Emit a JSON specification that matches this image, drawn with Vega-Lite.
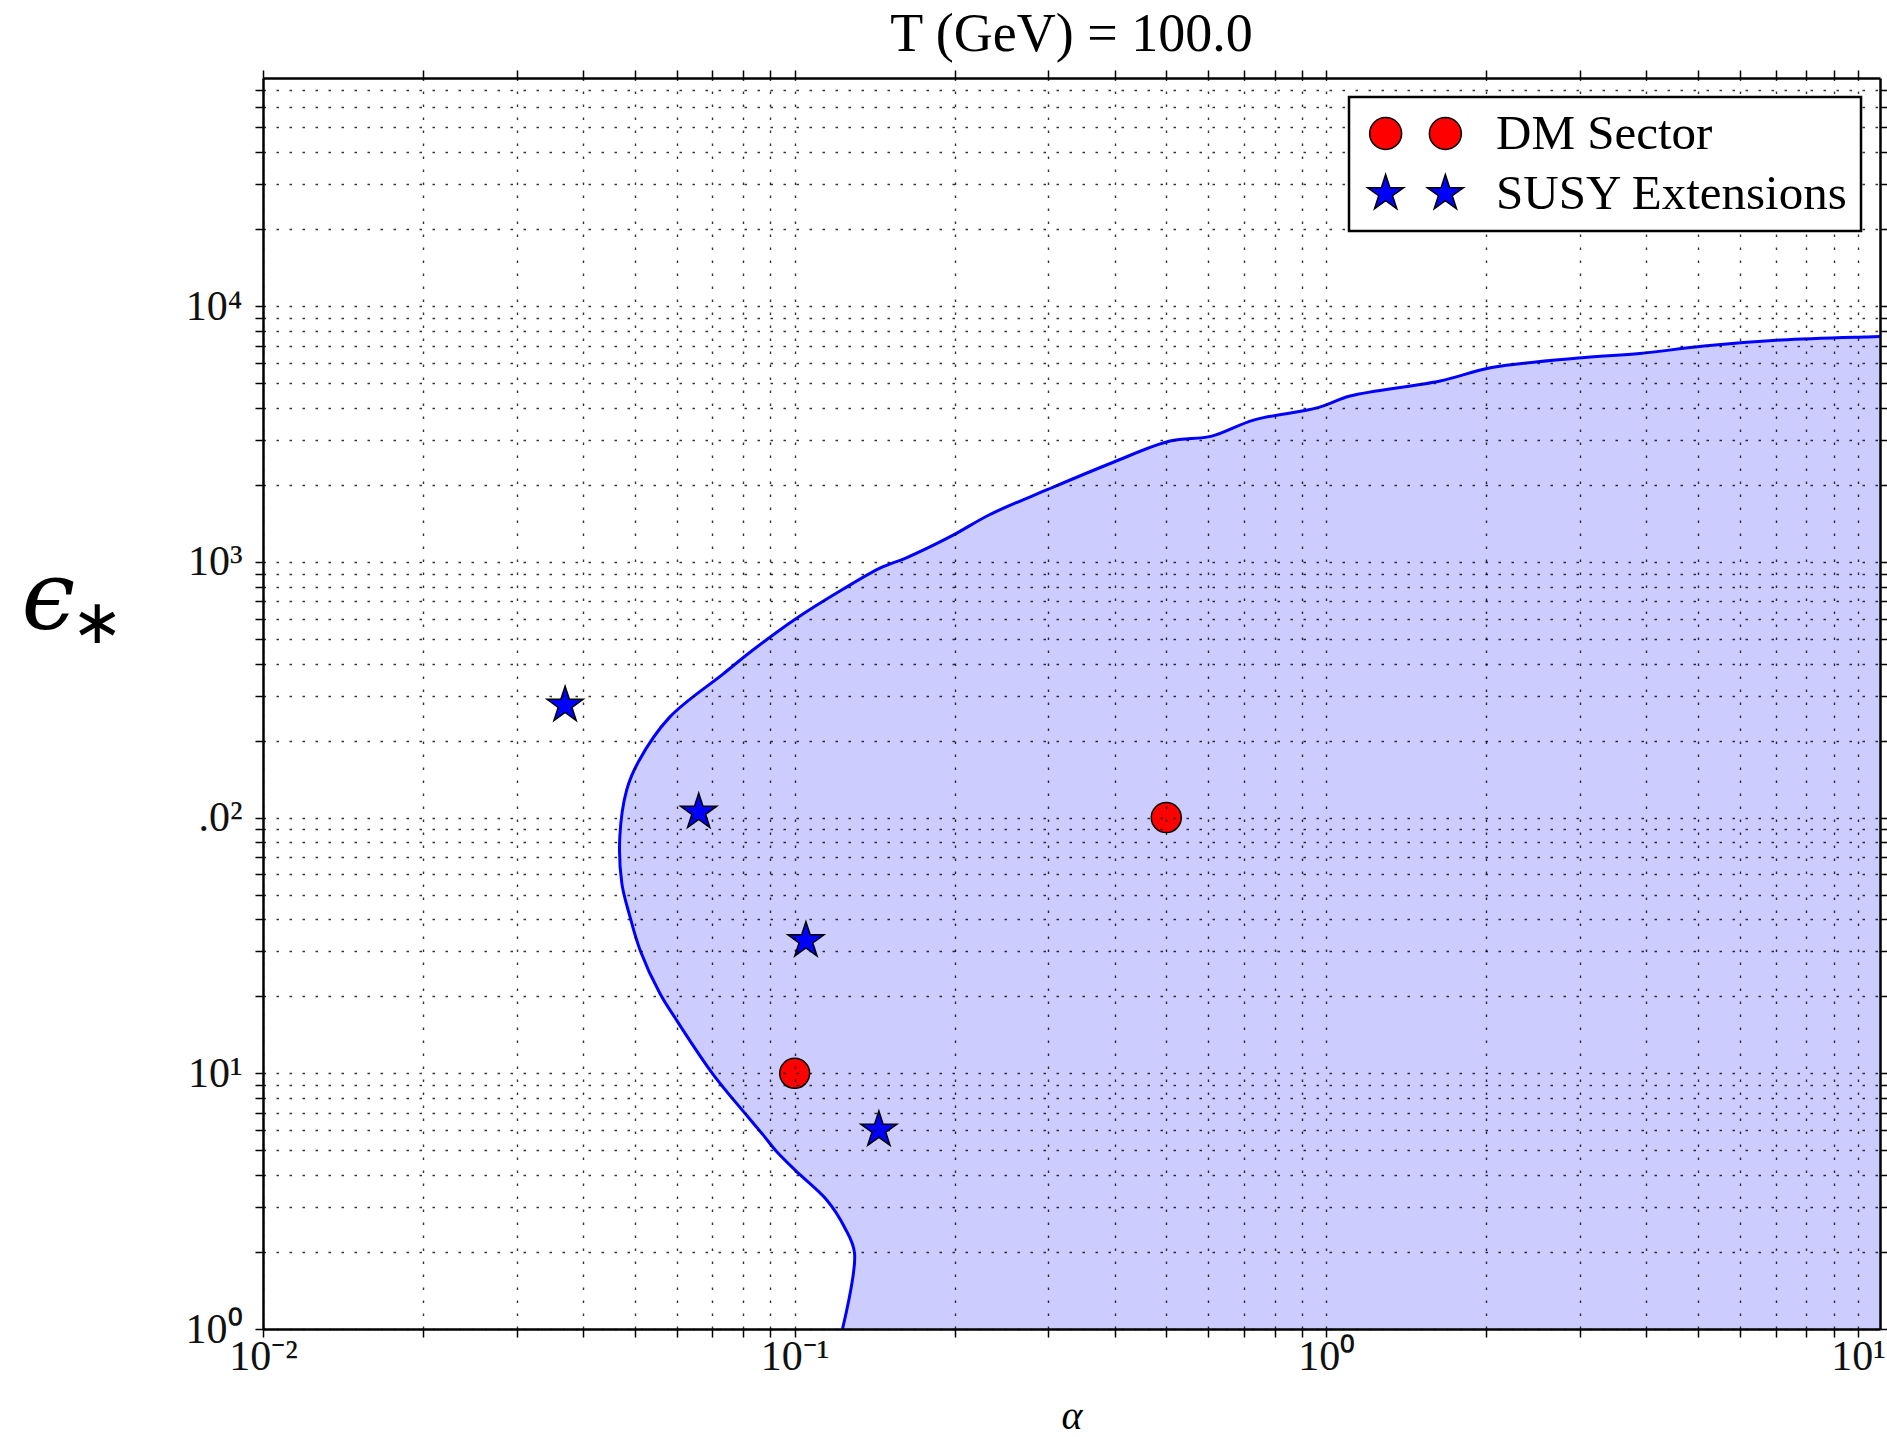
{
  "$schema": "https://vega.github.io/schema/vega-lite/v6.json",
  "autosize": {"type": "none"},
  "padding": {"left": 263, "top": 78, "right": 7, "bottom": 108},
  "width": 1617,
  "height": 1251,
  "background": "white",
  "title": {
    "text": "T (GeV) = 100.0",
    "font": "Liberation Serif",
    "fontSize": 54,
    "fontWeight": "normal",
    "color": "black",
    "anchor": "middle",
    "baseline": "alphabetic",
    "offset": -36
  },
  "datasets": {
    "boundary": [
      {"alpha": 0.1230, "eps": 1.0},
      {"alpha": 0.1296, "eps": 1.98},
      {"alpha": 0.1241, "eps": 2.5},
      {"alpha": 0.1150, "eps": 3.19},
      {"alpha": 0.1003, "eps": 4.17},
      {"alpha": 0.0920, "eps": 5.0},
      {"alpha": 0.0873, "eps": 5.73},
      {"alpha": 0.0812, "eps": 6.85},
      {"alpha": 0.0700, "eps": 10.0},
      {"alpha": 0.0600, "eps": 16.1},
      {"alpha": 0.0558, "eps": 20.5},
      {"alpha": 0.0512, "eps": 30.3},
      {"alpha": 0.0490, "eps": 41.0},
      {"alpha": 0.0473, "eps": 55.4},
      {"alpha": 0.0469, "eps": 84.3},
      {"alpha": 0.0483, "eps": 128},
      {"alpha": 0.0508, "eps": 165},
      {"alpha": 0.0582, "eps": 247},
      {"alpha": 0.0733, "eps": 364},
      {"alpha": 0.0837, "eps": 454},
      {"alpha": 0.0999, "eps": 594},
      {"alpha": 0.1232, "eps": 781},
      {"alpha": 0.1450, "eps": 947},
      {"alpha": 0.1622, "eps": 1037},
      {"alpha": 0.1970, "eps": 1260},
      {"alpha": 0.2330, "eps": 1532},
      {"alpha": 0.2993, "eps": 1919},
      {"alpha": 0.3954, "eps": 2441},
      {"alpha": 0.5080, "eps": 2967},
      {"alpha": 0.6090, "eps": 3103},
      {"alpha": 0.7297, "eps": 3584},
      {"alpha": 0.9643, "eps": 4009},
      {"alpha": 1.108, "eps": 4450},
      {"alpha": 1.637, "eps": 5095},
      {"alpha": 2.046, "eps": 5750},
      {"alpha": 3.065, "eps": 6292},
      {"alpha": 3.885, "eps": 6523},
      {"alpha": 5.133, "eps": 6985},
      {"alpha": 7.171, "eps": 7375},
      {"alpha": 10.30, "eps": 7576},
      {"alpha": 11.0, "eps": 7600}
    ],
    "markers": [
      {"alpha": 0.1, "eps": 10, "group": "DM Sector"},
      {"alpha": 0.5, "eps": 100, "group": "DM Sector"},
      {"alpha": 0.037, "eps": 275, "group": "SUSY Extensions"},
      {"alpha": 0.066, "eps": 105, "group": "SUSY Extensions"},
      {"alpha": 0.105, "eps": 33, "group": "SUSY Extensions"},
      {"alpha": 0.144, "eps": 6.0, "group": "SUSY Extensions"}
    ]
  },
  "resolve": {"axis": {"x": "independent", "y": "independent"}},
  "layer": [
    {
      "data": {"name": "boundary"},
      "mark": {"type": "area", "orient": "horizontal", "interpolate": "catmull-rom", "color": "#ccccff", "opacity": 1, "clip": true},
      "encoding": {
        "y": {
          "field": "eps", "type": "quantitative",
          "scale": {"type": "log", "domain": [1, 78000], "nice": false, "zero": false},
          "axis": {
            "orient": "left", "zindex": 1,
            "values": [1, 10, 100, 1000, 10000],
            "labelExpr": "datum.value < 5 ? '10⁰' : datum.value < 50 ? '10¹' : datum.value < 500 ? '.0²' : datum.value < 5000 ? '10³' : '10⁴'",
            "ticks": false, "tickSize": 0, "grid": false,
            "domain": true,
            "labelAlign": "right", "labelBaseline": "middle", "labelPadding": 21,
            "title": "ϵ",
            "titleAngle": 0, "titleAlign": "left", "titleBaseline": "alphabetic",
            "titleX": -242, "titleY": 550,
            "titleFont": "DejaVu Serif", "titleFontStyle": "italic", "titleFontWeight": "normal",
            "titleFontSize": 96, "titleColor": "black"
          }
        },
        "x": {
          "field": "alpha", "type": "quantitative",
          "scale": {"type": "log", "domain": [0.01, 11], "nice": false, "zero": false},
          "axis": {
            "orient": "bottom", "zindex": 1,
            "values": [0.01, 0.1, 1, 10],
            "labelExpr": "datum.value < 0.05 ? '10⁻²' : datum.value < 0.5 ? '10⁻¹' : datum.value < 5 ? '10⁰' : '10¹'",
            "ticks": false, "tickSize": 0, "grid": false,
            "domain": true,
            "labelBaseline": "top", "labelPadding": 7,
            "title": "α",
            "titleBaseline": "bottom", "titleY": 107,
            "titleFont": "Liberation Serif", "titleFontStyle": "italic", "titleFontWeight": "normal",
            "titleFontSize": 40, "titleColor": "black"
          }
        },
        "x2": {"datum": 11}
      }
    },
    {
      "data": {"name": "boundary"},
      "mark": {"type": "line", "interpolate": "catmull-rom", "color": "#0000ff", "strokeWidth": 3, "clip": true},
      "encoding": {
        "x": {
          "field": "alpha", "type": "quantitative",
          "scale": {"type": "log", "domain": [0.01, 11], "nice": false, "zero": false},
          "axis": {
            "orient": "bottom", "zindex": 1,
            "values": [0.01, 0.02, 0.03, 0.04, 0.05, 0.06, 0.07, 0.08, 0.09, 0.1, 0.2, 0.3, 0.4, 0.5, 0.6, 0.7, 0.8, 0.9, 1, 2, 3, 4, 5, 6, 7, 8, 9, 10],
            "labels": false, "domain": false, "ticks": true, "tickSize": 8, "title": null,
            "grid": true,
            "encode": {"ticks": {"update": {"y2": {"signal": "abs(log(datum.value)/LN10 - round(log(datum.value)/LN10)) < 0.001 ? -17 : -8.5"}}}}
          }
        },
        "y": {
          "field": "eps", "type": "quantitative",
          "scale": {"type": "log", "domain": [1, 78000], "nice": false, "zero": false},
          "axis": {
            "orient": "left", "zindex": 1,
            "values": [1, 2, 3, 4, 5, 6, 7, 8, 9, 10, 20, 30, 40, 50, 60, 70, 80, 90, 100, 200, 300, 400, 500, 600, 700, 800, 900, 1000, 2000, 3000, 4000, 5000, 6000, 7000, 8000, 9000, 10000, 20000, 30000, 40000, 50000, 60000, 70000],
            "labels": false, "domain": false, "ticks": true, "tickSize": 8,
            "title": "∗",
            "titleAngle": 0, "titleAlign": "center", "titleBaseline": "middle",
            "titleX": -166, "titleY": 545,
            "titleFont": "DejaVu Sans", "titleFontWeight": "normal",
            "titleFontSize": 62, "titleColor": "black",
            "grid": true,
            "encode": {"ticks": {"update": {"x2": {"signal": "abs(log(datum.value)/LN10 - round(log(datum.value)/LN10)) < 0.001 ? 17 : 8.5"}}}}
          }
        },
        "order": {"field": "eps", "type": "quantitative"}
      }
    },
    {
      "data": {"name": "markers"},
      "transform": [{"filter": "datum.group === 'DM Sector'"}],
      "mark": {"type": "point", "shape": "circle", "filled": true, "size": 900, "opacity": 1, "stroke": "black", "strokeWidth": 1.5},
      "encoding": {
        "x": {
          "field": "alpha", "type": "quantitative",
          "scale": {"type": "log", "domain": [0.01, 11], "nice": false, "zero": false},
          "axis": {
            "orient": "top", "zindex": 1,
            "values": [0.01, 0.02, 0.03, 0.04, 0.05, 0.06, 0.07, 0.08, 0.09, 0.1, 0.2, 0.3, 0.4, 0.5, 0.6, 0.7, 0.8, 0.9, 1, 2, 3, 4, 5, 6, 7, 8, 9, 10],
            "labels": false, "domain": true, "ticks": true, "tickSize": 8, "title": null, "grid": false,
            "encode": {"ticks": {"update": {"y2": {"signal": "abs(log(datum.value)/LN10 - round(log(datum.value)/LN10)) < 0.001 ? 17 : 8.5"}}}}
          }
        },
        "y": {
          "field": "eps", "type": "quantitative",
          "scale": {"type": "log", "domain": [1, 78000], "nice": false, "zero": false},
          "axis": {
            "orient": "right", "zindex": 1,
            "values": [1, 2, 3, 4, 5, 6, 7, 8, 9, 10, 20, 30, 40, 50, 60, 70, 80, 90, 100, 200, 300, 400, 500, 600, 700, 800, 900, 1000, 2000, 3000, 4000, 5000, 6000, 7000, 8000, 9000, 10000, 20000, 30000, 40000, 50000, 60000, 70000],
            "labels": false, "domain": true, "ticks": true, "tickSize": 8, "title": null, "grid": false,
            "encode": {"ticks": {"update": {"x2": {"signal": "abs(log(datum.value)/LN10 - round(log(datum.value)/LN10)) < 0.001 ? -17 : -8.5"}}}}
          }
        },
        "color": {
          "field": "group", "type": "nominal",
          "scale": {"domain": ["DM Sector", "SUSY Extensions"], "range": ["#ff0000", "#0000ff"]},
          "legend": {
            "orient": "top-right", "offset": 19, "title": null,
            "padding": 12, "rowPadding": 10,
            "labelFont": "Liberation Serif", "labelFontSize": 49, "labelColor": "black", "labelLimit": 600,
            "labelOffset": 56, "symbolOffset": 30, "symbolSize": 1024,
            "symbolStrokeColor": "black", "symbolStrokeWidth": 1.5, "symbolOpacity": 1,
            "fillColor": "white", "strokeColor": "black", "cornerRadius": 0,
            "zindex": 2,
            "encode": {
              "symbols": {
                "update": {
                  "shape": {"signal": "datum.label === 'DM Sector' ? 'M-0.866,0A1,1,0,1,1,-2.866,0A1,1,0,1,1,-0.866,0ZM2.866,0A1,1,0,1,1,0.866,0A1,1,0,1,1,2.866,0Z' : 'M-1.866,-1.1875L-1.5994,-0.3669L-0.7366,-0.3669L-1.4346,0.1401L-1.168,0.9607L-1.866,0.4536L-2.564,0.9607L-2.2974,0.1401L-2.9954,-0.3669L-2.1326,-0.3669ZM1.866,-1.1875L2.1326,-0.3669L2.9954,-0.3669L2.2974,0.1401L2.564,0.9607L1.866,0.4536L1.168,0.9607L1.4346,0.1401L0.7366,-0.3669L1.5994,-0.3669Z'"},
                  "stroke": {"value": "black"},
                  "strokeWidth": {"value": 1.5}
                }
              }
            }
          }
        }
      }
    },
    {
      "data": {"name": "markers"},
      "transform": [{"filter": "datum.group === 'SUSY Extensions'"}],
      "mark": {
        "type": "point",
        "shape": "M0,-1L0.2245,-0.309L0.9511,-0.309L0.3633,0.118L0.5878,0.809L0,0.382L-0.5878,0.809L-0.3633,0.118L-0.9511,-0.309L-0.2245,-0.309Z",
        "filled": true, "size": 1444, "opacity": 1, "stroke": "black", "strokeWidth": 1.5
      },
      "encoding": {
        "x": {
          "field": "alpha", "type": "quantitative",
          "scale": {"type": "log", "domain": [0.01, 11], "nice": false, "zero": false},
          "axis": null
        },
        "y": {
          "field": "eps", "type": "quantitative",
          "scale": {"type": "log", "domain": [1, 78000], "nice": false, "zero": false},
          "axis": null
        },
        "color": {
          "field": "group", "type": "nominal",
          "scale": {"domain": ["DM Sector", "SUSY Extensions"], "range": ["#ff0000", "#0000ff"]}
        }
      }
    }
  ],
  "config": {
    "view": {"stroke": null},
    "axis": {
      "labelFont": "Liberation Serif",
      "labelFontSize": 42,
      "labelColor": "#111111",
      "labelFlush": false,
      "labelOverlap": false,
      "labelBound": false,
      "tickColor": "black",
      "tickWidth": 1.5,
      "domainColor": "black",
      "domainWidth": 2.5,
      "gridColor": "#000000",
      "gridDash": [2.5, 10.5],
      "gridOpacity": 0.8,
      "gridWidth": 1.4
    },
    "legend": {
      "strokeWidth": 2.5
    }
  }
}
